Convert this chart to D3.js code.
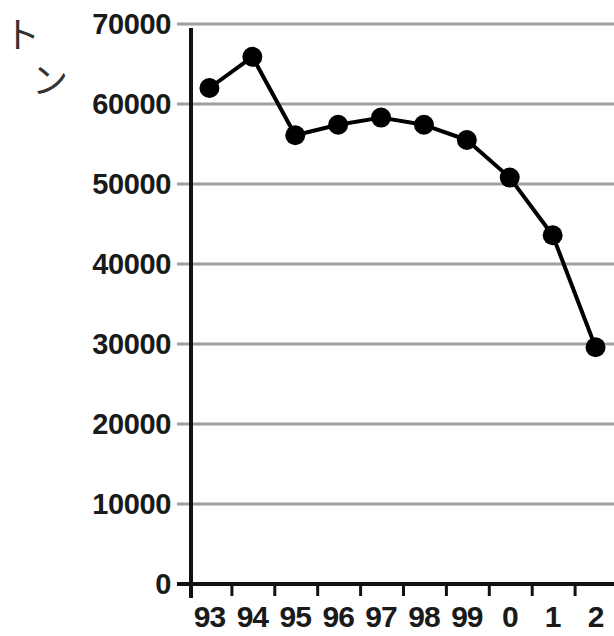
<!DOCTYPE html>
<html>
<head>
<meta charset="utf-8">
<script src="https://cdn.jsdelivr.net/npm/d3@7"></script>
<style>
  body { margin: 0; background: #fff; }
  svg { display: block; }
</style>
</head>
<body>
<svg id="chart" width="614" height="636"></svg>
<script>
const years = ["93", "94", "95", "96", "97", "98", "99", "0", "1", "2"];
const tons = [62000, 65900, 56100, 57400, 58300, 57400, 55500, 50800, 43600, 29600];
const yTicks = [0, 10000, 20000, 30000, 40000, 50000, 60000, 70000];
const unitChars = ["ト", "ン"];

const svg = d3.select("#chart");

let xScale = d3.scaleBand().domain(years).range([188, 617]);
let yScale = d3.scaleLinear().domain([0, 70000]).range([584, 24]);
const axisX = 191;

// gridlines
svg.append("g")
  .selectAll("line")
  .data(yTicks.filter(function(d) { return d > 0; }))
  .enter()
  .append("line")
  .attr("x1", 177)
  .attr("x2", 614)
  .attr("y1", function(d) { return yScale(d); })
  .attr("y2", function(d) { return yScale(d); })
  .attr("stroke", "#a0a0a0")
  .attr("stroke-width", 3);

// y labels
svg.append("g")
  .selectAll("text")
  .data(yTicks)
  .enter()
  .append("text")
  .attr("x", 171)
  .attr("y", function(d) { return yScale(d); })
  .attr("dy", "0.36em")
  .attr("text-anchor", "end")
  .attr("font-family", "Liberation Sans, Arial, sans-serif")
  .attr("font-size", 29)
  .attr("font-weight", "bold")
  .attr("letter-spacing", -0.4)
  .attr("fill", "#1a1a1a")
  .text(function(d) { return d; });

// y axis line
svg.append("line")
  .attr("x1", axisX).attr("x2", axisX)
  .attr("y1", 28).attr("y2", 598)
  .attr("stroke", "#111")
  .attr("stroke-width", 4);

// x axis line
svg.append("line")
  .attr("x1", 177).attr("x2", 614)
  .attr("y1", yScale(0)).attr("y2", yScale(0))
  .attr("stroke", "#111")
  .attr("stroke-width", 4);

// x ticks between categories
svg.append("g")
  .selectAll("line")
  .data(years.slice(1))
  .enter()
  .append("line")
  .attr("x1", function(d) { return xScale(d) + 1; })
  .attr("x2", function(d) { return xScale(d) + 1; })
  .attr("y1", yScale(0))
  .attr("y2", yScale(0) + 12)
  .attr("stroke", "#111")
  .attr("stroke-width", 3);

// x labels
svg.append("g")
  .selectAll("text")
  .data(years)
  .enter()
  .append("text")
  .attr("x", function(d) { return xScale(d) + xScale.bandwidth() / 2; })
  .attr("y", 627)
  .attr("text-anchor", "middle")
  .attr("font-family", "Liberation Sans Narrow, Arial Narrow, sans-serif")
  .attr("font-size", 30)
  .attr("font-weight", "bold")
  .attr("letter-spacing", -1)
  .attr("fill", "#1a1a1a")
  .text(function(d) { return d; });

// line
let line = d3.line()
  .x(function(d, i) { return xScale(years[i]) + xScale.bandwidth() / 2; })
  .y(function(d) { return yScale(d); });

svg.append("path")
  .datum(tons)
  .attr("d", line)
  .attr("fill", "none")
  .attr("stroke", "#000")
  .attr("stroke-width", 4)
  .attr("stroke-linejoin", "round");

// markers
svg.append("g")
  .selectAll("circle")
  .data(tons)
  .enter()
  .append("circle")
  .attr("cx", function(d, i) { return xScale(years[i]) + xScale.bandwidth() / 2; })
  .attr("cy", function(d) { return yScale(d); })
  .attr("r", 10)
  .attr("fill", "#000");

// unit label, written vertically
svg.append("g")
  .selectAll("text")
  .data(unitChars)
  .enter()
  .append("text")
  .attr("x", function(d, i) { return i === 0 ? 22 : 50; })
  .attr("y", function(d, i) { return i === 0 ? 48 : 94; })
  .attr("text-anchor", "middle")
  .attr("font-family", "Noto Sans CJK JP, sans-serif")
  .attr("font-size", 36)
  .attr("font-weight", 400)
  .attr("fill", "#333")
  .text(function(d) { return d; });
</script>
</body>
</html>
